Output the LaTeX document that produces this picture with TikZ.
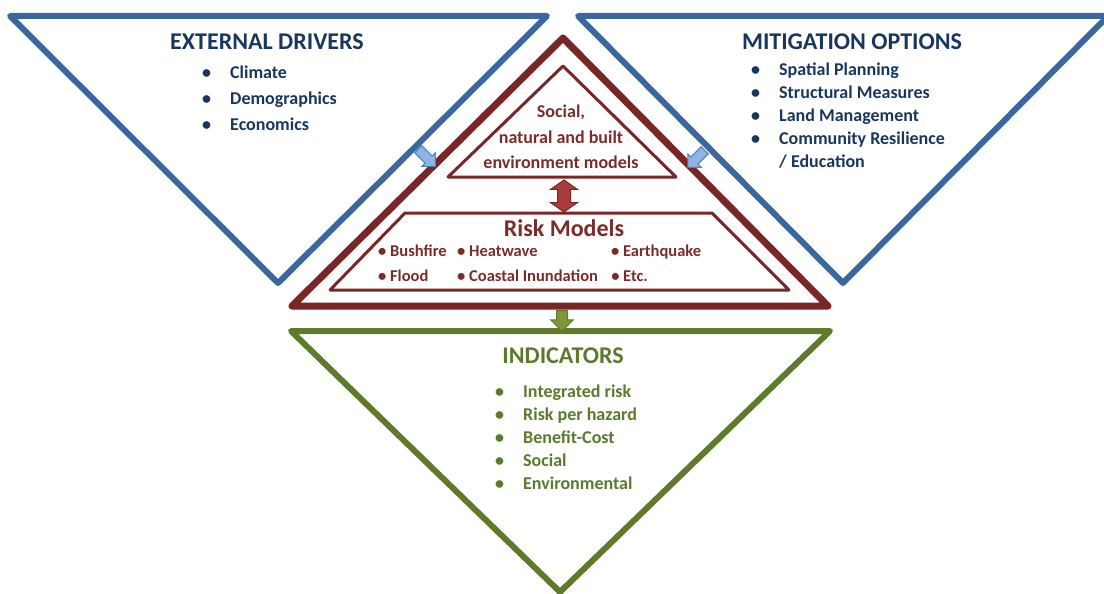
\documentclass[tikz,border=0pt]{standalone}
\usepackage{fontspec}
\setmainfont{Carlito}
\usetikzlibrary{positioning}
\usetikzlibrary{shapes.arrows}
\definecolor{drvblue}{HTML}{3A679E}
\definecolor{drvtext}{HTML}{17375E}
\definecolor{inblue}{HTML}{8DB4E2}
\definecolor{inedge}{HTML}{4F81BD}
\definecolor{rmred}{HTML}{7A2626}
\definecolor{rmtext}{HTML}{7A2C2C}
\definecolor{rmfill}{HTML}{A83C3C}
\definecolor{indgreen}{HTML}{5E7A2A}
\definecolor{indtext}{HTML}{5A7A2C}
\definecolor{indfill}{HTML}{7A9A3A}
\tikzset{
  tri/.style={line width=6pt, line join=round},
  title/.style={font=\bfseries\fontsize{24}{28}\selectfont},
  itemlist/.style={font=\bfseries\fontsize{18}{#1}\selectfont, anchor=base west, inner sep=0pt},
  inarrow/.style={single arrow, draw=inedge, fill=inblue, line width=1pt, inner xsep=0pt, inner ysep=4.5pt,
    minimum height=24pt, single arrow head extend=4.5pt}
}

\begin{document}
\begin{tikzpicture}[x=1pt,y=-1pt]
\useasboundingbox (0,0) rectangle (1104,594);

% triangles
\coordinate (L1) at (10,16);   \coordinate (L2) at (547,16);  \coordinate (L3) at (278,283);
\coordinate (R1) at (578,16);  \coordinate (R2) at (1108,16); \coordinate (R3) at (843,283);
\coordinate (M1) at (563,38);  \coordinate (M2) at (828,306); \coordinate (M3) at (292,306);
\coordinate (I1) at (291,331); \coordinate (I2) at (830,331); \coordinate (I3) at (560,592);
\draw[tri, drvblue] (L1) -- (L2) -- (L3) -- cycle;
\draw[tri, drvblue] (R1) -- (R2) -- (R3) -- cycle;
\draw[tri, rmred, line width=7pt] (M1) -- (M2) -- (M3) -- cycle;
\draw[tri, indgreen] (I1) -- (I2) -- (I3) -- cycle;

% inner parts of the model pyramid
\draw[rmred, line width=3pt, line join=round] (563,66) -- (676,177) -- (448,177) -- cycle;
\draw[rmred, line width=3pt, line join=round] (405,213) -- (712,213) -- (789,290) -- (330,290) -- cycle;

% texts
\node[title, text=drvtext] (drv) at (267,42) {EXTERNAL DRIVERS};
\node[itemlist=26, text=drvtext] (drvlist) at (202,78)
  {\begin{tabular}[t]{@{}p{28pt}@{}l@{}}•&Climate\\•&Demographics\\•&Economics\end{tabular}};

\node[title, text=drvtext] (mit) at (852,42) {MITIGATION OPTIONS};
\node[itemlist=23, text=drvtext] (mitlist) at (751,76)
  {\begin{tabular}[t]{@{}p{28pt}@{}l@{}}•&Spatial Planning\\•&Structural Measures\\•&Land Management\\
   •&Community Resilience\\&/ Education\end{tabular}};

\node[font=\bfseries\fontsize{18}{25.5}\selectfont, align=center, text=rmtext] (env) at (561,137)
  {Social,\\natural and built\\environment models};
\node[title, text=rmtext] (risk) at (564,228) {Risk Models};
\node[font=\bfseries\fontsize{16.5}{25}\selectfont, anchor=base west, inner sep=0pt, text=rmtext] (hazards) at (378,256)
  {\begin{tabular}[t]{@{}p{79pt}@{}p{154pt}@{}l@{}}• Bushfire&• Heatwave&• Earthquake\\
   • Flood&• Coastal Inundation&• Etc.\end{tabular}};

\node[title, text=indtext] (ind) at (563,356) {INDICATORS};
\node[itemlist=23, text=indtext] (indlist) at (495,397)
  {\begin{tabular}[t]{@{}p{28pt}@{}l@{}}•&Integrated risk\\•&Risk per hazard\\•&Benefit-Cost\\
   •&Social\\•&Environmental\end{tabular}};

% block arrows
\node[inarrow, rotate=-45] (drvin) at (425,156) {};
\node[inarrow, rotate=-135] (mitin) at (698,157) {};
\node[double arrow, draw=rmred, fill=rmfill, line width=1pt, rotate=90,
  inner xsep=0pt, inner ysep=6pt, minimum height=32pt, double arrow head extend=7pt,
  double arrow tip angle=110] (link) at (564,196) {};
\node[single arrow, draw=indgreen, fill=indfill, line width=1pt, rotate=-90,
  inner xsep=0pt, inner ysep=5pt, minimum height=21pt, single arrow head extend=6pt] (out) at (562,318) {};
\end{tikzpicture}
\end{document}
